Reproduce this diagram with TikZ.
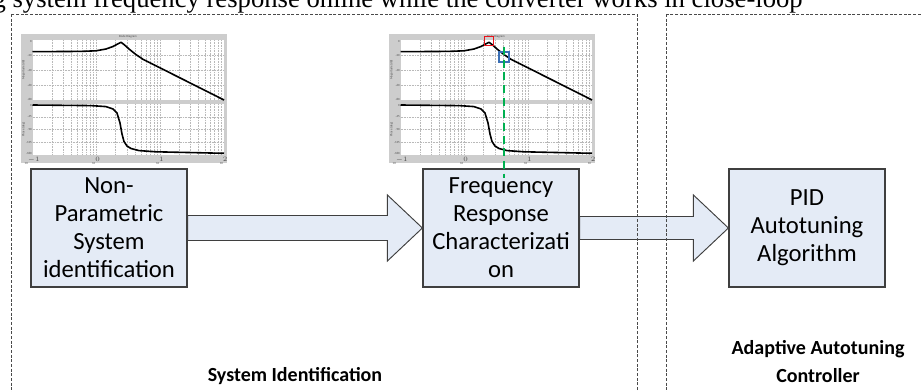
\documentclass[tikz,border=0pt]{standalone}
\usepackage{fontspec}
\setmainfont{Carlito}
\newfontfamily\seriffont{Liberation Serif}
\usetikzlibrary{calc}

\definecolor{boxfill}{HTML}{E4EBF6}
\definecolor{boxline}{HTML}{3F3F3F}
\definecolor{framegray}{HTML}{4A4A4A}
\definecolor{plotgray}{HTML}{CDCDCD}
\definecolor{markgreen}{HTML}{00B050}
\definecolor{markred}{HTML}{E8141B}
\definecolor{markblue}{HTML}{3A6FB5}

\tikzset{
  procbox/.style={draw=boxline, fill=boxfill, line width=0.9pt,
    minimum width=117pt, minimum height=88.5pt, inner sep=0pt,
    align=center, font=\fontsize{18.5}{21}\selectfont},
  fatarrow/.style={draw=boxline, fill=boxfill, line width=0.7pt, line join=miter},
  panelframe/.style={draw=framegray, line width=0.55pt, dash pattern=on 2.2pt off 1.3pt},
  gridline/.style={draw=gray!55, line width=0.2pt, dash pattern=on 0.6pt off 0.6pt},
  curve/.style={draw=black, line width=1.2pt, line join=round},
  tinytext/.style={font=\fontsize{2.3}{2.6}\selectfont, text=black!70, inner sep=0pt},
  paneltitle/.style={font=\bfseries\fontsize{15}{21}\selectfont, align=center},
  markbox/.style={line width=0.9pt},
}

% one Bode diagram, placed with its upper-left corner at #1 (pixel units)
\newcommand\bodeplot[1]{%
  \begin{scope}[shift={(#1)}]
    \fill[plotgray] (0,0) rectangle (206,129);
    \fill[white] (11.5,6) rectangle (203,66.5);
    \fill[white] (11.5,70) rectangle (203,121);
    % logarithmic grid
    \foreach \d in {0,1,2}{
      \foreach \k in {2,...,9}{
        \pgfmathsetmacro\gx{11.5+63.83*(\d+log10(\k))}
        \draw[gridline] (\gx,6) -- (\gx,66.5);
        \draw[gridline] (\gx,70) -- (\gx,121);
      }
    }
    \foreach \gx in {75.33,139.17}{
      \draw[gridline] (\gx,6) -- (\gx,66.5);
      \draw[gridline] (\gx,70) -- (\gx,121);
    }
    \foreach \gy in {21.1,36.25,51.4}{\draw[gridline] (11.5,\gy) -- (203,\gy);}
    \foreach \gy in {82.75,95.5,108.25}{\draw[gridline] (11.5,\gy) -- (203,\gy);}
    % axis and tick labels
    \node[tinytext] at (107,3) {Bode Diagram};
    \node[tinytext, rotate=90] at (2.5,36) {Magnitude (dB)};
    \node[tinytext, rotate=90] at (2.5,95.5) {Phase (deg)};
    \foreach \gy/\lab in {7.5/0,21.1/-20,36.25/-40,51.4/-60,65/-80}{\node[tinytext, anchor=east] at (11,\gy) {\lab};}
    \foreach \gy/\lab in {71.5/0,82.75/-45,95.5/-90,108.25/-135,119.3/-180}{\node[tinytext, anchor=east] at (11,\gy) {\lab};}
    \foreach \gx/\lab in {11.5/-1,75.33/0,139.17/1,203/2}{\node[tinytext, anchor=north] at (\gx,123) {10$^{\lab}$};}
    % magnitude
    \draw[curve] (11.5,17.7) -- (60,17.4) -- (75,16.8) -- (85,15) -- (92,12.5)
      -- (97,9.8) -- (100,8.3) -- (103,10.5) -- (108,15) -- (115,20.6)
      -- (122,25.3) -- (130,29.3) -- (203,66);
    % phase
    \draw[curve] (11.5,71) -- (70,71.6) -- (85,72.6) -- (92,75) -- (96,79)
      -- (99,89) -- (101,100) -- (103,107.5) -- (106,112) -- (110,114.5)
      -- (118,116.6) -- (135,117.8) -- (203,119.3);
  \end{scope}%
}

\begin{document}
\begin{tikzpicture}[x=0.75pt, y=-0.75pt]
  \useasboundingbox (0,0) rectangle (921,392);
  \clip (0,0) rectangle (921,392);
  \fill[white] (0,0) rectangle (921,392);

  % running heading, cut by the top edge
  \node[anchor=base east, inner sep=0pt, font=\seriffont\fontsize{20}{22}\selectfont]
    (heading) at (803,8) {g system frequency response online while the converter works in close-loop};

  % Bode diagrams
  \bodeplot{21,34}
  \bodeplot{389,34}

  % processing blocks
  \node[procbox] (b1) at (109,228) {Non-\\Parametric\\System\\identification};
  \node[procbox] (b2) at (501,228) {Frequency\\Response\\Characterizati\\on};
  \node[procbox] (b3) at (807,228) {PID\\Autotuning\\Algorithm};

  % block arrows between the blocks
  \draw[fatarrow] ($(b1.east)+(0,-12.5)$) -- ($(b2.west)+(-35,-12.5)$)
    -- ($(b2.west)+(-35,-33)$) -- (b2.west) -- ($(b2.west)+(-35,33)$)
    -- ($(b2.west)+(-35,12.5)$) -- ($(b1.east)+(0,12.5)$) -- cycle;
  \draw[fatarrow] ($(b2.east)+(0,-11.5)$) -- ($(b3.west)+(-35,-11.5)$)
    -- ($(b3.west)+(-35,-33)$) -- (b3.west) -- ($(b3.west)+(-35,33)$)
    -- ($(b3.west)+(-35,11.5)$) -- ($(b2.east)+(0,11.5)$) -- cycle;

  % panels
  \draw[panelframe] (11,14) rectangle (637,400);
  \draw[panelframe] (666,14) rectangle (930,400);

  % resonance peak and crossover markers
  \draw[markbox, draw=markred] (484.5,36.5) rectangle (493.5,45.5);
  \draw[markbox, draw=markblue] (499,52) rectangle (509,62);
  \coordinate (gtop) at (504,47);
  \coordinate (gbot) at (504,178);
  \draw[draw=markgreen, line width=1.3pt, dash pattern=on 6pt off 3.5pt] (gtop) -- (gbot);

  % panel titles
  \node[paneltitle] (t1) at (295,376) {System Identification};
  \node[paneltitle] (t2) at (818,362) {Adaptive Autotuning\\Controller};
\end{tikzpicture}
\end{document}
